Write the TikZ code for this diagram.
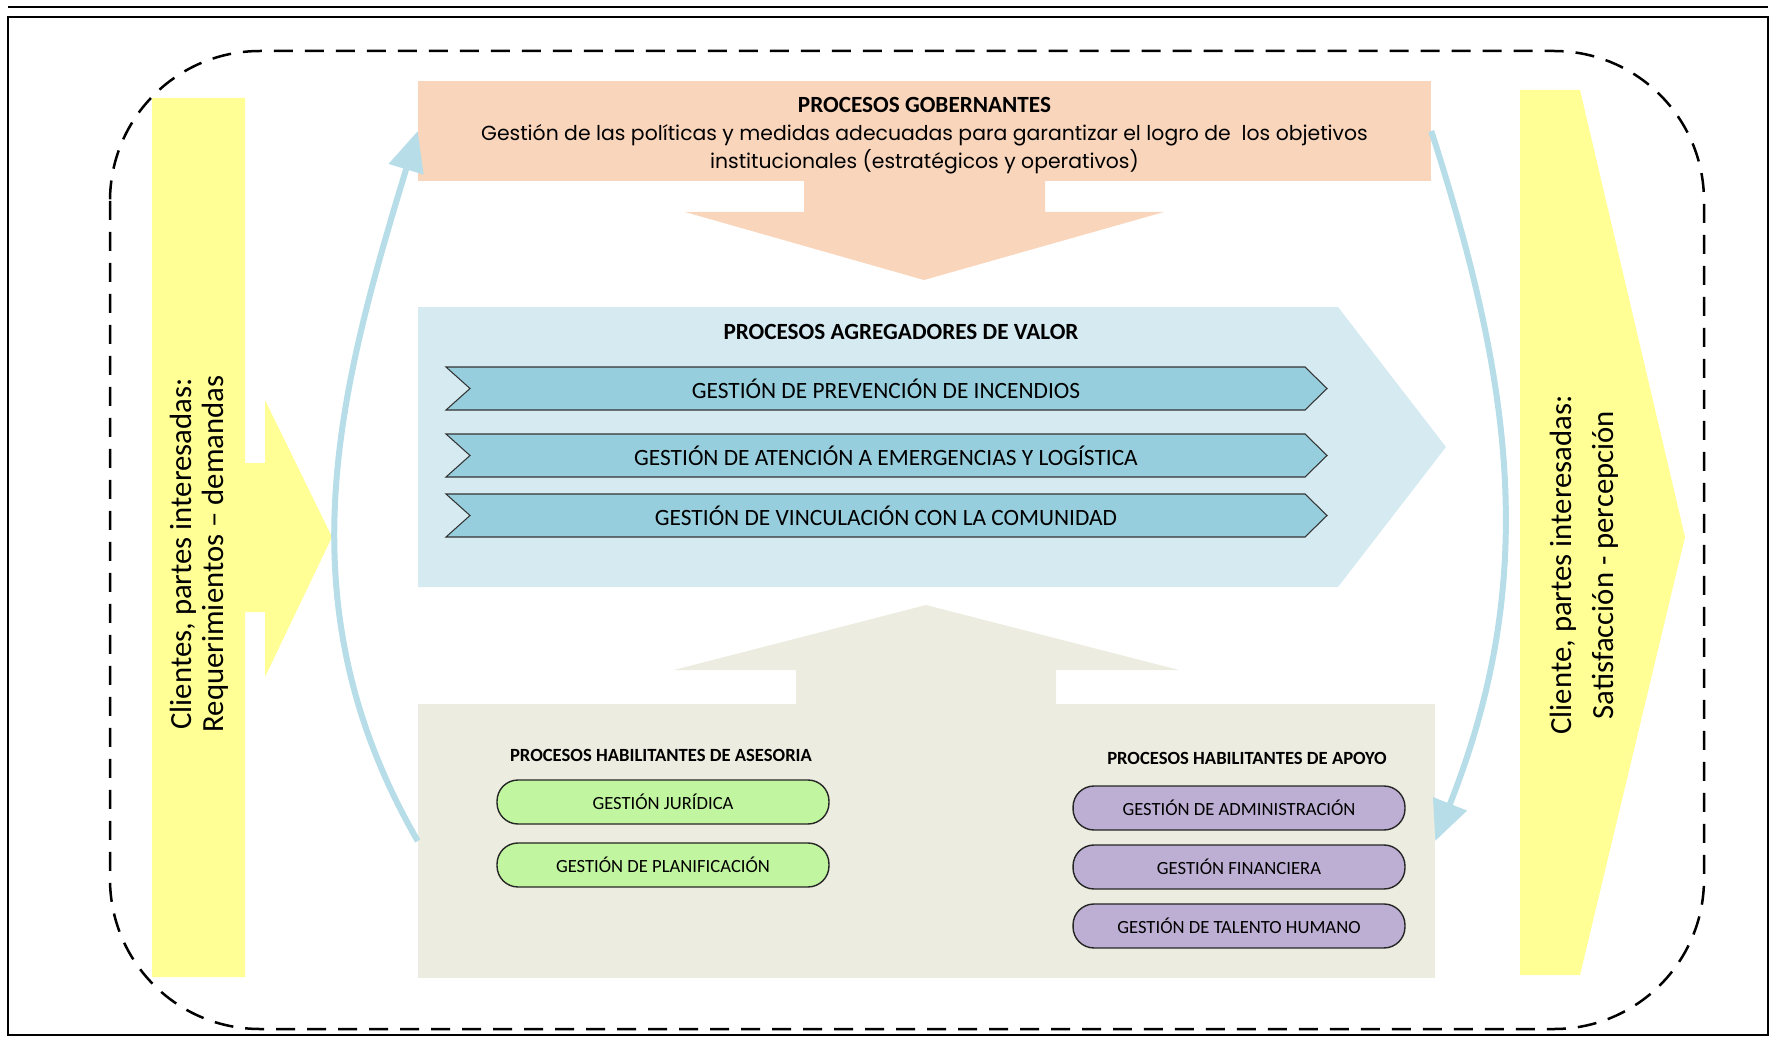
\documentclass[tikz,border=0pt]{standalone}
\usepackage{fontspec}
\setmainfont{Carlito}
\newfontfamily\gotica{Poppins}
\usetikzlibrary{arrows.meta}

\definecolor{amarillo}{RGB}{255,255,150}
\definecolor{durazno}{RGB}{249,213,188}
\definecolor{celeste}{RGB}{214,235,241}
\definecolor{aguamar}{RGB}{151,206,222}
\definecolor{arena}{RGB}{236,236,224}
\definecolor{verdecito}{RGB}{193,245,160}
\definecolor{lila}{RGB}{189,175,211}
\definecolor{flecha}{RGB}{182,221,232}

\begin{document}
\begin{tikzpicture}[x=0.02cm, y=-0.02cm, node distance=1.18cm,
		chev/.style={draw=black!80, line width=0.6pt, fill=aguamar},
		pill/.style={draw=black!85, line width=0.8pt, rounded corners=0.42cm, minimum width=6.64cm, minimum height=0.88cm, inner sep=0pt, font=\fontsize{10.6}{12}\selectfont},
		titulo/.style={font=\fontsize{13.2}{15}\selectfont\bfseries},
		cabecera/.style={font=\fontsize{10.6}{12}\selectfont\bfseries},
		gestion/.style={font=\fontsize{13.3}{15}\selectfont},
		ciclo/.style={draw=flecha, line width=0.12cm, -{Triangle[length=0.8cm, width=0.7cm]}},
		lado/.style={rotate=90, align=center, inner sep=0pt}]

		\useasboundingbox (0,0) rectangle (1771,1037);

		% marco
		\draw[line width=0.04cm] (8,7) -- (1768,7);
		\draw[line width=0.04cm] (8,17) rectangle (1768,1035);
		\draw[dash pattern=on 0.38cm off 0.24cm, line width=0.05cm, rounded corners=3cm] (110,51) rectangle (1704,1029);

		% clientes
		\fill[amarillo] (152,98) -- (245,98) -- (245,463) -- (265,463) -- (265,400) -- (332,537) -- (265,677) -- (265,612) -- (245,612) -- (245,977) -- (152,977) -- cycle;
		\fill[amarillo] (1520,90) -- (1580,90) -- (1685,537) -- (1580,975) -- (1520,975) -- cycle;
		\node[lado, font=\fontsize{17.5}{18.4}\selectfont] (req) at (199,554) {Clientes, partes interesadas:\\Requerimientos – demandas};
		\node[lado, font=\fontsize{17.5}{24}\selectfont] (sat) at (1584,565) {Cliente, partes interesadas:\\Satisfacción - percepción};

		% gobernantes
		\fill[durazno] (804,170) -- (804,212) -- (685,212) -- (924,280) -- (1164,212) -- (1045,212) -- (1045,170) -- cycle;
		\node[fill=durazno, minimum width=20.26cm, minimum height=2cm, inner sep=0pt] (gob) at (924.5,131) {};
		\node[align=center, inner sep=0pt, font=\fontsize{11.6}{16}\selectfont] (gobtxt) at (924.5,136)
			{{\bfseries\fontsize{13.2}{16}\selectfont PROCESOS GOBERNANTES}\\{\gotica Gestión de las políticas y medidas adecuadas para garantizar el logro de \ los objetivos}\\{\gotica institucionales (estratégicos y operativos)}};

		% agregadores de valor
		\fill[celeste] (418,307) -- (1338,307) -- (1446,447) -- (1338,587) -- (418,587) -- cycle;
		\node[titulo] (valor) at (901,332) {PROCESOS AGREGADORES DE VALOR};
		\filldraw[chev] (446,367) -- (1305,367) -- (1327,388.5) -- (1305,410) -- (446,410) -- (470,388.5) -- cycle;
		\filldraw[chev] (446,434) -- (1305,434) -- (1327,455.5) -- (1305,477) -- (446,477) -- (470,455.5) -- cycle;
		\filldraw[chev] (446,494) -- (1305,494) -- (1327,515.5) -- (1305,537) -- (446,537) -- (470,515.5) -- cycle;
		\node[gestion] (prev) at (886,388.5) {GESTIÓN DE PREVENCIÓN DE INCENDIOS};
		\node[gestion] (emer) at (886,455.5) {GESTIÓN DE ATENCIÓN A EMERGENCIAS Y LOGÍSTICA};
		\node[gestion] (vinc) at (886,515.5) {GESTIÓN DE VINCULACIÓN CON LA COMUNIDAD};

		% habilitantes
		\fill[arena] (796,710) -- (796,670) -- (674,670) -- (926,605) -- (1179,670) -- (1056,670) -- (1056,710) -- cycle;
		\node[fill=arena, minimum width=20.34cm, minimum height=5.48cm, inner sep=0pt] (habil) at (926.5,841) {};
		\node[cabecera] (ases) at (661,755) {PROCESOS HABILITANTES DE ASESORIA};
		\node[pill, fill=verdecito] (jur) at (663,802) {GESTIÓN JURÍDICA};
		\node[pill, fill=verdecito, below of=jur, node distance=1.26cm] (plan) {GESTIÓN DE PLANIFICACIÓN};
		\node[cabecera] (apoyo) at (1247,758) {PROCESOS HABILITANTES DE APOYO};
		\node[pill, fill=lila] (adm) at (1239,808) {GESTIÓN DE ADMINISTRACIÓN};
		\node[pill, fill=lila, below of=adm] (fin) {GESTIÓN FINANCIERA};
		\node[pill, fill=lila, below of=fin] (tal) {GESTIÓN DE TALENTO HUMANO};

		% ciclo
		\draw[ciclo] (habil.west) .. controls (281,604) and (338,393) .. (gob.west);
		\draw[ciclo] (gob.east) .. controls (1515,391) and (1538,582) .. (habil.east);
	\end{tikzpicture}
\end{document}
